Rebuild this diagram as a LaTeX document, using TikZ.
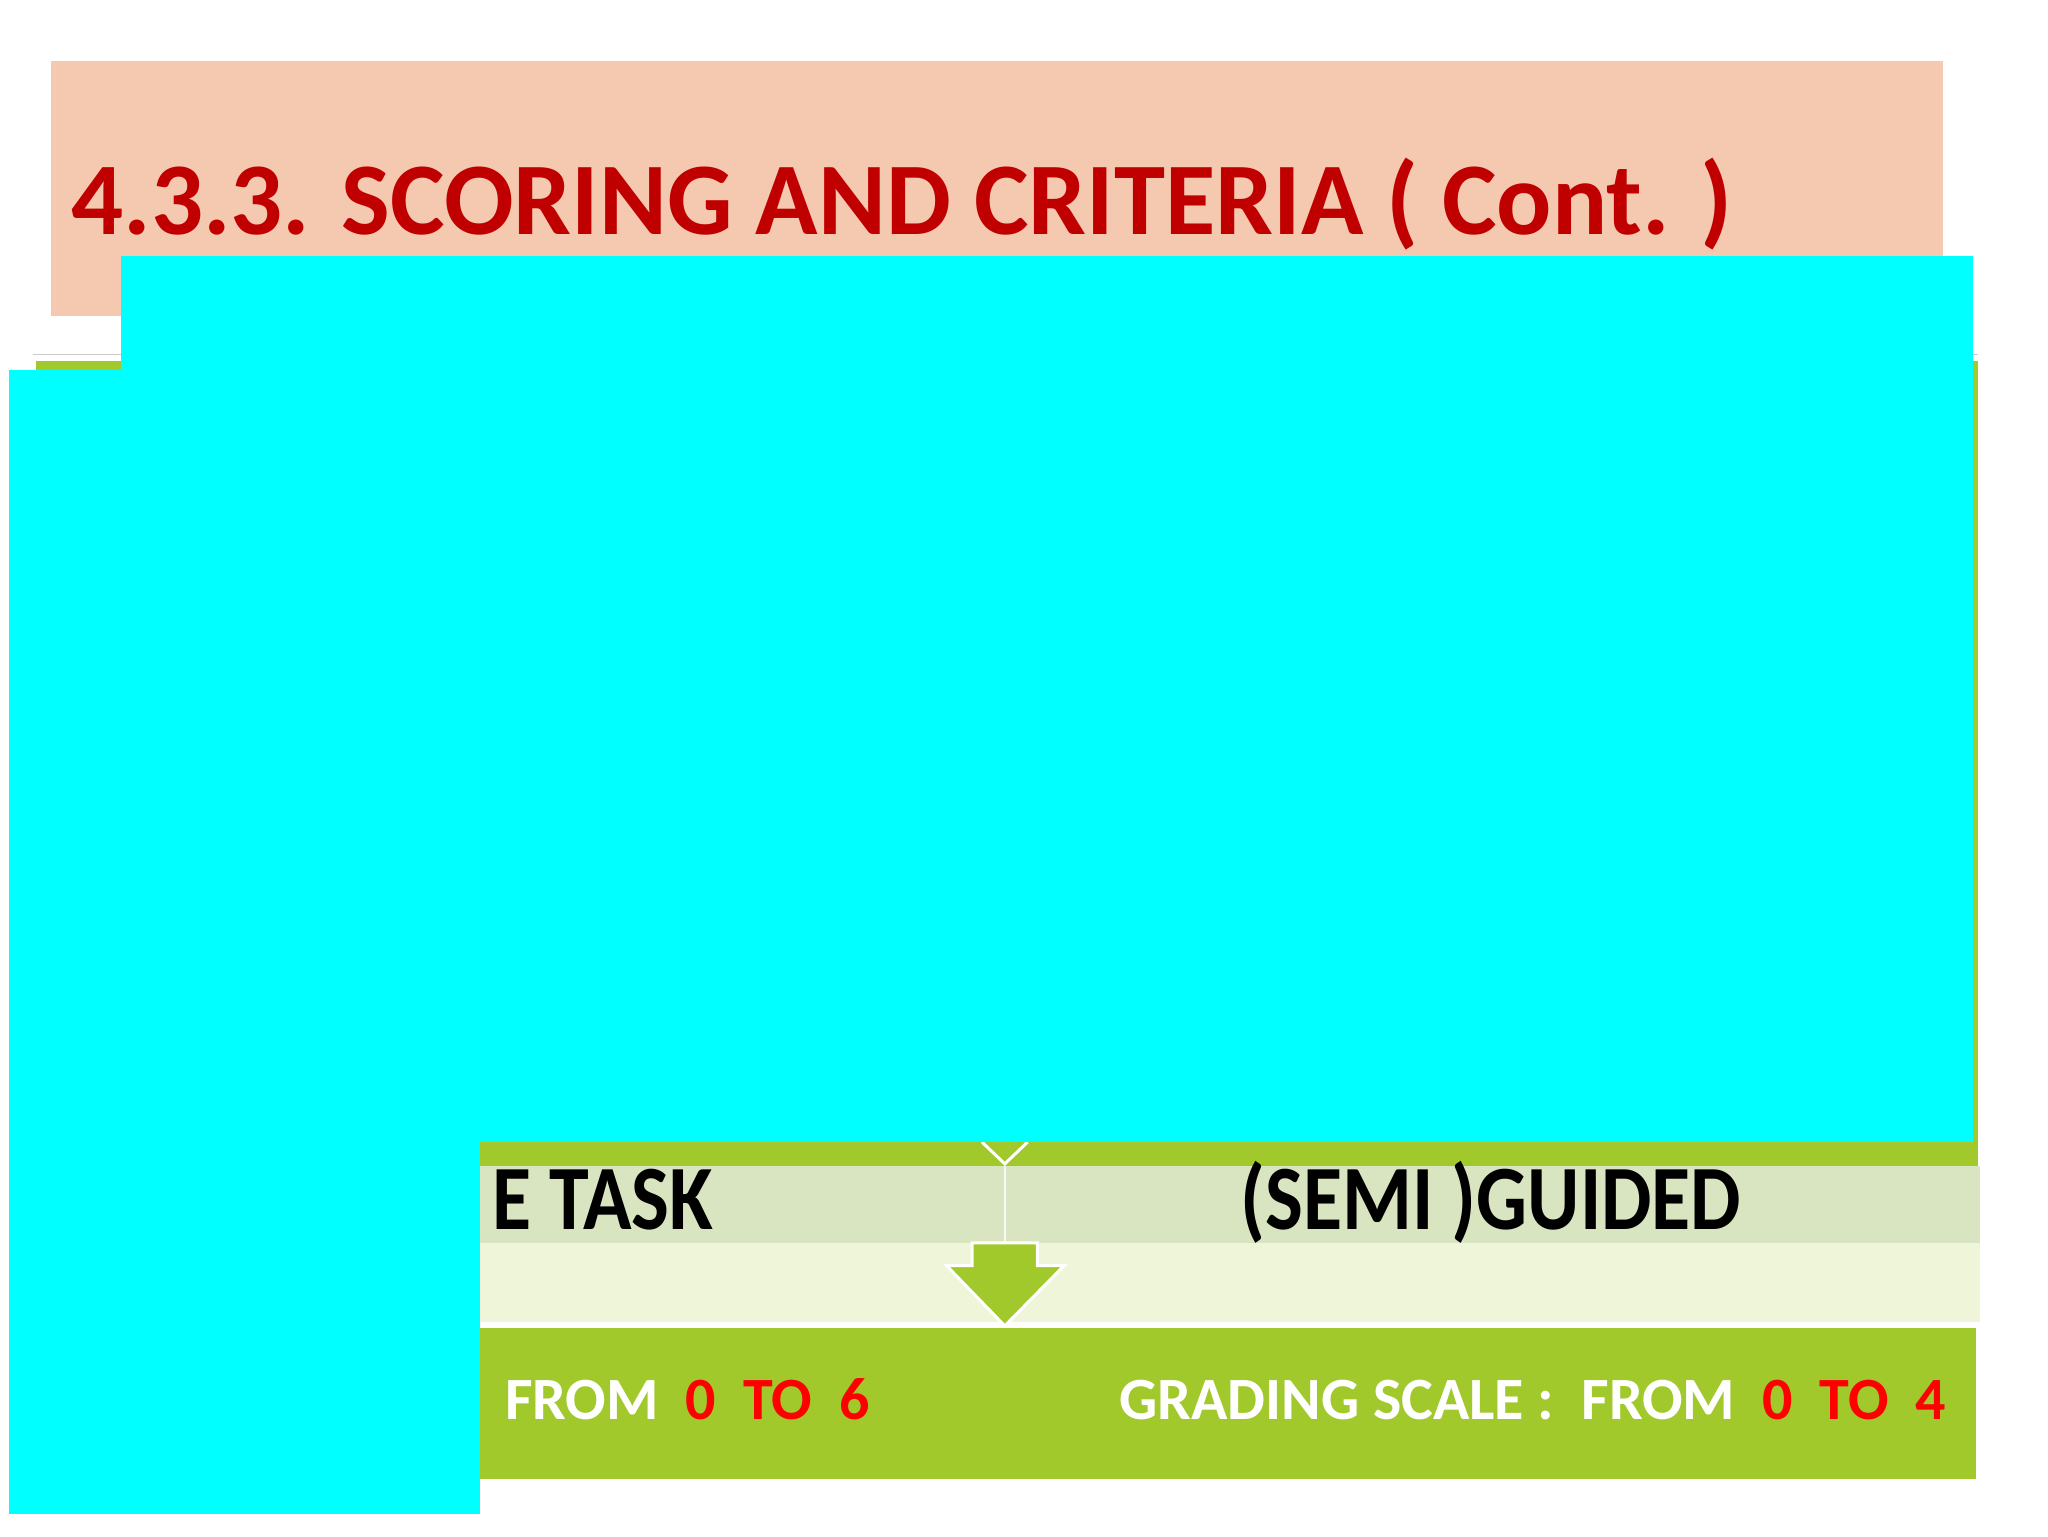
\documentclass[tikz,border=0pt]{standalone}
\usepackage{fontspec}
\setmainfont{Carlito}
\definecolor{pinkbg}{HTML}{F4C9B0}
\definecolor{titlered}{HTML}{C00000}
\definecolor{lgreen}{HTML}{A2C92C}
\definecolor{band1}{HTML}{D9E5C0}
\definecolor{band2}{HTML}{EEF5D9}
\definecolor{cyanbox}{HTML}{00FFFF}
\definecolor{numred}{HTML}{FF0000}
\begin{document}
\begin{tikzpicture}[x=0.988pt,y=-0.988pt,
  txt/.style={inner sep=0pt,font=\bfseries},
  cover/.style={fill=cyanbox,draw=none}]
\useasboundingbox (0,0) rectangle (2072.9,1554.7);
\fill[white] (0,0) rectangle (2072.9,1554.7);
% title
\fill[pinkbg] (52,62) rectangle (1967,320);
\node[txt,anchor=base west,text=titlered,font=\bfseries\fontsize{103}{115}\selectfont] (title) at (72,237) {4.3.3. SCORING AND CRITERIA ( Cont. )};
% green panel
\draw[gray!40,line width=1.5] (33,359) -- (2002,359);
\fill[lgreen] (36,365) rectangle (2002,1180);
\fill[band1] (486,1180) rectangle (2004,1258);
\fill[band2] (486,1258) rectangle (2004,1338);
\draw[white,line width=3] (486,1340) -- (2004,1340);
\fill[lgreen] (486,1344) rectangle (2000,1497);
\draw[white!80!band1,line width=2] (1017,1180) -- (1017,1258);
% chevron
\coordinate (cv) at (1017,1178);
\draw[white,line width=3] (994,1156) -- (cv) -- (1040,1156);
% arrow
\filldraw[fill=lgreen,draw=white,line width=3] (984,1258) -- (1050,1258) -- (1050,1281) -- (1077,1281) -- (1017,1342) -- (958,1281) -- (984,1281) -- cycle;
% texts
\node[txt,anchor=base east,font=\bfseries\fontsize{92}{100}\selectfont] (task) at (722,1244) {\scalebox{0.87}[1]{E TASK}};
\node[txt,anchor=base,font=\bfseries\fontsize{92}{100}\selectfont] (semi) at (1509,1244) {\scalebox{0.87}[1]{(SEMI )GUIDED}};
\node[txt,anchor=base west,text=white,font=\bfseries\fontsize{60}{70}\selectfont] (from1) at (511,1437) {FROM\ \ \textcolor{numred}{0}\ \ \textcolor{numred}{TO}\ \ \textcolor{numred}{6}};
\node[txt,anchor=base west,text=white,font=\bfseries\fontsize{60}{70}\selectfont] (from2) at (1133,1437) {GRADING SCALE :\ \ FROM\ \ \textcolor{numred}{0}\ \ \textcolor{numred}{TO}\ \ \textcolor{numred}{4}};
% covers
\fill[cover] (122,259) rectangle (1997,1156);
\fill[cover] (9,374) rectangle (486,1532);
\end{tikzpicture}
\end{document}
